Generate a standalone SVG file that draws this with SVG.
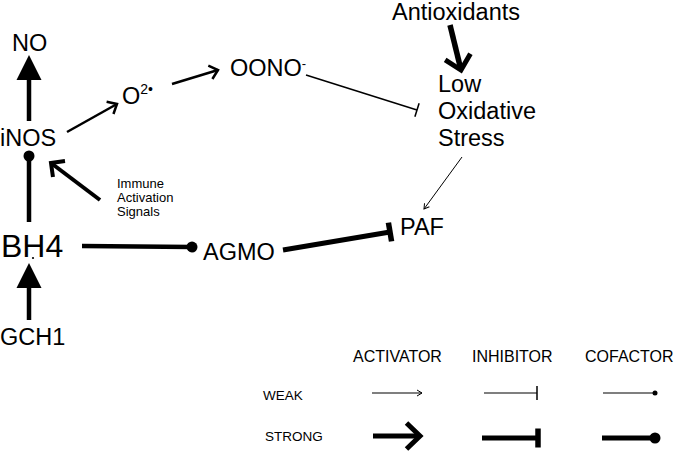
<svg xmlns="http://www.w3.org/2000/svg" width="677" height="451" viewBox="0 0 677 451">
<style>
text{font-family:"Liberation Sans",Arial,sans-serif;fill:#000}
.lbl{font-size:23.5px}
.leg{font-size:16px}
.legs{font-size:13.5px}
.c{stroke:#000;fill:none}
.mk{stroke:#000;fill:none}
.mf{fill:#000;stroke:none}
</style>
<defs>
<marker id="tri" markerUnits="userSpaceOnUse" markerWidth="30" markerHeight="30" orient="auto" overflow="visible" refX="0" refY="0"><path class="mf" d="M0,-12.5 L25,0 L0,12.5 Z"/></marker>
<marker id="arrThin" markerUnits="userSpaceOnUse" markerWidth="10" markerHeight="10" orient="auto" overflow="visible" refX="0" refY="0"><path class="mk" stroke-width="1" d="M-5,-3 L0,0 L-5,3"/></marker>
<marker id="arrMed" markerUnits="userSpaceOnUse" markerWidth="20" markerHeight="20" orient="auto" overflow="visible" refX="0" refY="0"><path class="mk" stroke-width="2.5" d="M-8,-7 L0,0 L-8,7"/></marker>
<marker id="arrImm" markerUnits="userSpaceOnUse" markerWidth="20" markerHeight="20" orient="auto" overflow="visible" refX="0" refY="0"><path class="mk" stroke-width="4" d="M-10,-10 L0,0 L-10,10"/></marker>
<marker id="arrThick" markerUnits="userSpaceOnUse" markerWidth="30" markerHeight="30" orient="auto" overflow="visible" refX="0" refY="0"><path class="mk" stroke-width="5" d="M-13.5,-13 L0,0 L-13.5,13"/></marker>
<marker id="barThin" markerUnits="userSpaceOnUse" markerWidth="10" markerHeight="20" orient="auto" overflow="visible" refX="0" refY="0"><path class="mk" stroke-width="1.5" d="M0,-7 L0,7"/></marker>
<marker id="barThick" markerUnits="userSpaceOnUse" markerWidth="10" markerHeight="30" orient="auto" overflow="visible" refX="0" refY="0"><path class="mk" stroke-width="5.5" d="M0,-9.5 L0,9.5"/></marker>
<marker id="dotSmall" markerUnits="userSpaceOnUse" markerWidth="10" markerHeight="10" orient="auto" overflow="visible" refX="0" refY="0"><circle class="mf" cx="0" cy="0" r="2.5"/></marker>
<marker id="dotBig" markerUnits="userSpaceOnUse" markerWidth="14" markerHeight="14" orient="auto" overflow="visible" refX="0" refY="0"><circle class="mf" cx="0" cy="0" r="5.5"/></marker>
</defs>

<g id="connectors">
<line class="c" x1="29" y1="121" x2="29" y2="80" stroke-width="4.5" marker-end="url(#tri)"/>
<line class="c" x1="67" y1="132" x2="117" y2="104" stroke-width="2.5" marker-end="url(#arrMed)"/>
<line class="c" x1="172" y1="84" x2="218" y2="70" stroke-width="2.5" marker-end="url(#arrMed)"/>
<line class="c" x1="306" y1="75" x2="417" y2="110" stroke-width="1.5" marker-end="url(#barThin)"/>
<line class="c" x1="450" y1="25" x2="461" y2="70" stroke-width="5.5" marker-end="url(#arrThick)"/>
<line class="c" x1="462" y1="157" x2="424" y2="209" stroke-width="1" marker-end="url(#arrThin)"/>
<line class="c" x1="283" y1="250" x2="390" y2="232" stroke-width="5" marker-end="url(#barThick)"/>
<line class="c" x1="82" y1="246" x2="192" y2="247" stroke-width="4.5" marker-end="url(#dotBig)"/>
<line class="c" x1="29" y1="222" x2="29" y2="156" stroke-width="4.5" marker-end="url(#dotBig)"/>
<line class="c" x1="29" y1="320" x2="29" y2="288" stroke-width="4.5" marker-end="url(#tri)"/>
<line class="c" x1="100" y1="200" x2="51" y2="163" stroke-width="4" marker-end="url(#arrImm)"/>
</g>

<g id="NO"><text class="lbl" x="12" y="51" font-size="23">NO</text></g>
<g id="iNOS"><text class="lbl" x="0" y="146">iNOS</text></g>
<g id="O2"><text class="lbl" x="122" y="104" font-size="27">O<tspan font-size="14" dy="-10">2•</tspan></text></g>
<g id="OONO"><text class="lbl" x="230" y="76" font-size="19.5">OONO<tspan font-size="13" dy="-8">-</tspan></text></g>
<g id="Antioxidants"><text class="lbl" x="392" y="19.5">Antioxidants</text></g>
<g id="LowOxidativeStress"><text class="lbl" x="438" y="92">Low</text><text class="lbl" x="438" y="119">Oxidative</text><text class="lbl" x="438" y="146">Stress</text></g>
<g id="PAF"><text class="lbl" x="400" y="235" font-size="22">PAF</text></g>
<g id="AGMO"><text class="lbl" x="203" y="260" font-size="24">AGMO</text></g>
<g id="BH4"><text x="1" y="257" font-size="32">BH4</text><circle cx="33" cy="258" r="1.1" fill="#000"/></g>
<g id="GCH1"><text class="lbl" x="0" y="345" font-size="22">GCH1</text></g>
<g id="ImmuneActivationSignals"><text x="117" y="188" font-size="13">Immune</text><text x="117" y="202" font-size="13">Activation</text><text x="117" y="216" font-size="13">Signals</text></g>

<g id="legend">
<text class="leg" x="353" y="362">ACTIVATOR</text>
<text class="leg" x="472" y="362">INHIBITOR</text>
<text class="leg" x="585" y="362">COFACTOR</text>
<text class="legs" x="263" y="400">WEAK</text>
<text class="legs" x="265" y="441">STRONG</text>
<line class="c" x1="372" y1="393" x2="422" y2="393" stroke-width="1.2" marker-end="url(#arrThin)"/>
<line class="c" x1="484" y1="393" x2="537" y2="393" stroke-width="1.2" marker-end="url(#barThin)"/>
<line class="c" x1="603" y1="393" x2="655" y2="393" stroke-width="1.2" marker-end="url(#dotSmall)"/>
<line class="c" x1="373" y1="436" x2="420" y2="436" stroke-width="5" marker-end="url(#arrThick)"/>
<line class="c" x1="482" y1="438" x2="538" y2="438" stroke-width="5" marker-end="url(#barThick)"/>
<line class="c" x1="602" y1="438" x2="655" y2="438" stroke-width="5" marker-end="url(#dotBig)"/>
</g>
</svg>
